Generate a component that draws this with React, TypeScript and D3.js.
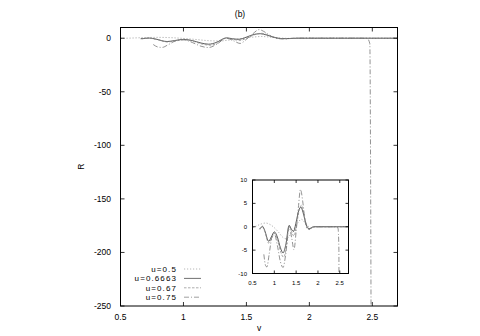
import React from 'react';
import * as d3 from 'd3';

const title = '(b)';
const xLabel = 'v';
const yLabel = 'R';
const xTicks = [0.5, 1, 1.5, 2, 2.5];
const yTicks = [0, -50, -100, -150, -200, -250];
const insetXTicks = [0.5, 1, 1.5, 2, 2.5];
const insetYTicks = [10, 5, 0, -5, -10];
const seriesNames = ['u=0.5', 'u=0.6663', 'u=0.67', 'u=0.75'];

// u=0.5
const vU05 = [0.5, 0.6, 0.7, 0.8, 0.9, 1.0, 1.1, 1.2, 1.28, 1.36, 1.45, 1.55, 1.62, 1.7, 1.78, 1.85, 1.95, 2.7];
const rU05 = [-0.2, 0.2, 0.6, 0.8, 0.5, -0.2, -1.2, -2.3, -2.6, -1.8, -0.5, 1.0, 1.6, 0.9, 0.1, -0.2, 0, 0];
// u=0.6663
const vU06663 = [0.66, 0.7, 0.73, 0.78, 0.87, 0.93, 1.0, 1.07, 1.14, 1.2, 1.26, 1.34, 1.39, 1.44, 1.5, 1.56, 1.61, 1.66, 1.72, 1.77, 1.82, 1.9, 2.7];
const rU06663 = [-0.5, -0.1, 0.1, -0.8, -3.1, -2.2, -1.1, -2.2, -4.5, -5.6, -4, 0.3, -0.5, -1.0, 1, 3.5, 4.2, 3, 0.8, -0.3, -0.4, 0, 0];
// u=0.67
const vU067 = [0.67, 0.72, 0.78, 0.87, 0.94, 1.0, 1.08, 1.15, 1.21, 1.27, 1.34, 1.4, 1.45, 1.51, 1.57, 1.62, 1.67, 1.73, 1.78, 1.85, 1.92, 2.7];
const rU067 = [-0.6, 0, -1, -3.5, -2.5, -1.4, -3, -5.5, -6.5, -4.8, 0.2, -1.2, -2, 0.5, 3.5, 4.6, 3.2, 0.6, -0.5, -0.3, 0, 0];
// u=0.75
const vU075 = [0.76, 0.8, 0.83, 0.88, 0.95, 1.0, 1.07, 1.14, 1.2, 1.26, 1.34, 1.4, 1.45, 1.5, 1.55, 1.6, 1.65, 1.7, 1.75, 1.8, 1.88, 2.4, 2.46, 2.48, 2.49];
const rU075 = [-5.9, -8.3, -8.6, -6, -2, -1.5, -4, -7.5, -8.7, -6, 0, -2.5, -4.9, -1, 4, 8, 5.5, 1.5, -0.4, -0.6, 0, 0, -0.3, -5, -260];

const seriesV = [vU05, vU06663, vU067, vU075];
const seriesR = [rU05, rU06663, rU067, rU075];
const dashes = ['1.2,1.8', '', '2.5,1.5', '5,2,1,2'];
const strokes = ['#9a9a9a', '#333333', '#8a8a8a', '#777777'];

const font = '"Liberation Sans", Arial, sans-serif';

export default function App() {
  const x = d3.scaleLinear().domain([0.5, 2.7]).range([120.5, 397.5]);
  const y = d3.scaleLinear().domain([-250, 10]).range([306, 27.5]);
  const ix = d3.scaleLinear().domain([0.5, 2.7]).range([252.5, 348.5]);
  const iy = d3.scaleLinear().domain([-10, 10]).range([273.5, 180]);

  const path = (sx, sy, k) =>
    d3.line<number>()
      .x((_, i) => sx(seriesV[k][i]))
      .y(d => sy(d))
      .curve(d3.curveMonotoneX)(seriesR[k]) || '';

  const [x0, x1] = x.range();
  const [y0, y1] = y.range();
  const [ix0, ix1] = ix.range();
  const [iy0, iy1] = iy.range();

  return (
    <svg width={480} height={336} style={{ position: 'absolute', left: 0, top: 0, background: '#fff' }}
      fontFamily={font}>
      <defs>
        <clipPath id="mainClip"><rect x={x0} y={y1} width={x1 - x0} height={y0 - y1} /></clipPath>
        <clipPath id="insetClip"><rect x={ix0} y={iy1} width={ix1 - ix0} height={iy0 - iy1} /></clipPath>
      </defs>
      <rect width={480} height={336} fill="#fff" />
      <text x={240} y={17} textAnchor="middle" fontSize={8.5}>{title}</text>

      {/* main plot curves */}
      <g clipPath="url(#mainClip)" fill="none">
        {seriesNames.map((n, k) => (
          <path key={n} d={path(x, y, k)} stroke={strokes[k]} strokeWidth={0.8} strokeDasharray={dashes[k]} />
        ))}
      </g>

      {/* main axes */}
      <rect x={x0} y={y1} width={x1 - x0} height={y0 - y1} fill="none" stroke="#000" strokeWidth={1} />
      {xTicks.map(t => (
        <g key={t}>
          <line x1={x(t)} x2={x(t)} y1={y0} y2={y0 - 4} stroke="#000" strokeWidth={0.8} />
          <line x1={x(t)} x2={x(t)} y1={y1} y2={y1 + 4} stroke="#000" strokeWidth={0.8} />
          <text x={x(t)} y={319.5} textAnchor="middle" fontSize={8.5}>{String(t)}</text>
        </g>
      ))}
      {yTicks.map(t => (
        <g key={t}>
          <line x1={x0} x2={x0 + 4} y1={y(t)} y2={y(t)} stroke="#000" strokeWidth={0.8} />
          <line x1={x1} x2={x1 - 4} y1={y(t)} y2={y(t)} stroke="#000" strokeWidth={0.8} />
          <text x={111} y={y(t) + 3} textAnchor="end" fontSize={8.5}>{String(t)}</text>
        </g>
      ))}
      <text x={(x0 + x1) / 2} y={331} textAnchor="middle" fontSize={8.5}>{xLabel}</text>
      <text transform={`translate(84,${(y0 + y1) / 2}) rotate(-90)`} textAnchor="middle" fontSize={8.5}>{yLabel}</text>

      {/* legend */}
      {seriesNames.map((n, k) => (
        <g key={n}>
          <text x={177} y={272 + k * 9.4} textAnchor="end" fontSize={8} letterSpacing={1.1}>{n}</text>
          <line x1={184} x2={201} y1={269 + k * 9.4} y2={269 + k * 9.4} stroke={strokes[k]} strokeWidth={0.7}
            strokeDasharray={dashes[k]} />
        </g>
      ))}

      {/* inset */}
      <rect x={ix0} y={iy1} width={ix1 - ix0} height={iy0 - iy1} fill="#fff" />
      <g clipPath="url(#insetClip)" fill="none">
        {seriesNames.map((n, k) => (
          <path key={n} d={path(ix, iy, k)} stroke={strokes[k]} strokeWidth={0.8} strokeDasharray={dashes[k]} />
        ))}
      </g>
      <rect x={ix0} y={iy1} width={ix1 - ix0} height={iy0 - iy1} fill="none" stroke="#000" strokeWidth={1} />
      {insetXTicks.map(t => (
        <g key={t}>
          <line x1={ix(t)} x2={ix(t)} y1={iy0} y2={iy0 - 3} stroke="#000" strokeWidth={0.8} />
          <line x1={ix(t)} x2={ix(t)} y1={iy1} y2={iy1 + 3} stroke="#000" strokeWidth={0.8} />
          <text x={ix(t)} y={285} textAnchor="middle" fontSize={6}>{String(t)}</text>
        </g>
      ))}
      {insetYTicks.map(t => (
        <g key={t}>
          <line x1={ix0} x2={ix0 + 3} y1={iy(t)} y2={iy(t)} stroke="#000" strokeWidth={0.8} />
          <line x1={ix1} x2={ix1 - 3} y1={iy(t)} y2={iy(t)} stroke="#000" strokeWidth={0.8} />
          <text x={247} y={iy(t) + 2} textAnchor="end" fontSize={6}>{String(t)}</text>
        </g>
      ))}
    </svg>
  );
}
